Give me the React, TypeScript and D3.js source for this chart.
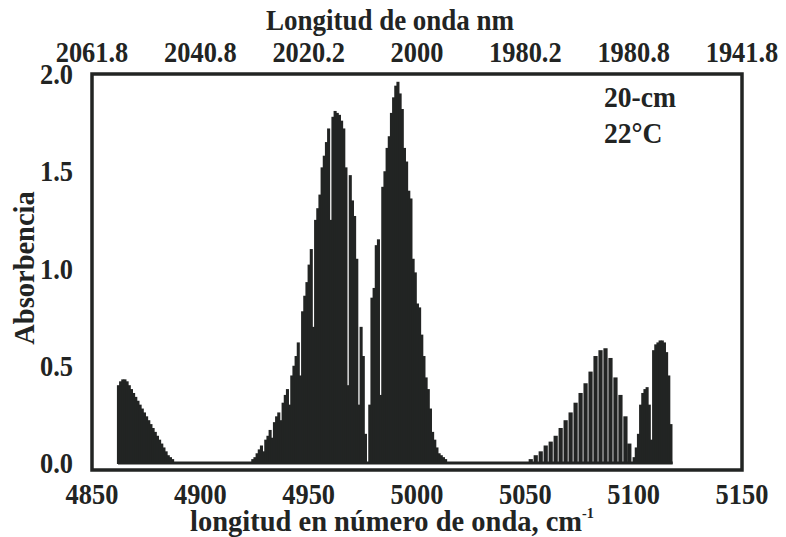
import React from "react";
import * as d3 from "d3";

// ---- data ----
const xTicks = [4850, 4900, 4950, 5000, 5050, 5100, 5150];
const topTickLabels = ["2061.8", "2040.8", "2020.2", "2000", "1980.2", "1980.8", "1941.8"];
const yTicks = [0, 0.5, 1.0, 1.5, 2.0];
const yTickLabels = ["0.0", "0.5", "1.0", "1.5", "2.0"];

// absorption lines: [wavenumber cm^-1, absorbance]
const band1: [number, number][] = [
  [4862, 0.40], [4863, 0.42], [4864, 0.43], [4865, 0.43], [4866, 0.42], [4867, 0.40],
  [4868, 0.38], [4869, 0.36], [4870, 0.34], [4871, 0.32], [4872, 0.30], [4873, 0.28],
  [4874, 0.26], [4875, 0.24], [4876, 0.22], [4877, 0.20], [4878, 0.18], [4879, 0.16],
  [4880, 0.14], [4881, 0.12], [4882, 0.10], [4883, 0.08], [4884, 0.06], [4885, 0.04],
  [4886, 0.03], [4887, 0.02],
];
const band2: [number, number][] = [
  [4924, 0.02], [4925, 0.03], [4926, 0.05], [4927, 0.07], [4928, 0.09], [4929, 0.06],
  [4930, 0.12], [4931, 0.14], [4932, 0.17], [4933, 0.13], [4934, 0.21], [4935, 0.24],
  [4936, 0.26], [4937, 0.22], [4938, 0.31], [4939, 0.35], [4940, 0.38], [4941, 0.30],
  [4942, 0.45], [4943, 0.50], [4944, 0.55], [4945, 0.62], [4946, 0.45], [4947, 0.78],
  [4948, 0.86], [4949, 0.93], [4950, 1.02], [4951, 1.10], [4952, 0.70], [4953, 1.25],
  [4954, 1.31], [4955, 1.38], [4956, 1.52], [4957, 1.58], [4958, 1.65], [4959, 1.72],
  [4960, 1.25], [4961, 1.78], [4962, 1.81], [4963, 1.80], [4964, 1.79], [4965, 1.76],
  [4966, 1.72], [4967, 1.52], [4968, 0.40], [4969, 1.48], [4970, 1.35], [4971, 1.27],
  [4972, 1.05], [4973, 0.30], [4974, 0.70], [4975, 0.55], [4976, 0.15],
];
const band3: [number, number][] = [
  [4978, 0.30], [4979, 0.85], [4980, 0.90], [4981, 1.12], [4982, 1.15], [4983, 0.35],
  [4984, 1.42], [4985, 1.50], [4986, 1.62], [4987, 1.68], [4988, 1.80], [4989, 1.88],
  [4990, 1.94], [4991, 1.96], [4992, 1.90], [4993, 1.82], [4994, 1.62], [4995, 1.55],
  [4996, 1.40], [4997, 1.36], [4998, 1.05], [4999, 0.98], [5000, 0.82], [5001, 0.80],
  [5002, 0.66], [5003, 0.55], [5004, 0.44], [5005, 0.38], [5006, 0.28], [5007, 0.16],
  [5008, 0.12], [5009, 0.08], [5010, 0.05], [5011, 0.04], [5012, 0.03], [5013, 0.02],
];
const band4: [number, number][] = [
  [5052.5, 0.02], [5054.8, 0.04], [5057.1, 0.06], [5059.4, 0.09], [5061.7, 0.11],
  [5064.0, 0.14], [5066.3, 0.18], [5068.6, 0.22], [5070.9, 0.26], [5073.2, 0.31],
  [5075.5, 0.36], [5077.8, 0.41], [5080.1, 0.47], [5082.4, 0.55], [5084.7, 0.58],
  [5087.0, 0.59], [5089.3, 0.54], [5091.6, 0.44], [5093.9, 0.35], [5096.2, 0.24],
  [5098.0, 0.10],
];
const band5: [number, number][] = [
  [5100, 0.03], [5101, 0.08], [5102, 0.15], [5103, 0.30], [5104, 0.36], [5105, 0.38],
  [5106, 0.39], [5107, 0.30], [5108, 0.12], [5109, 0.58], [5110, 0.61], [5111, 0.62],
  [5112, 0.63], [5113, 0.63], [5114, 0.62], [5115, 0.57], [5116, 0.45], [5117, 0.20],
];
const baselineRange = [4862, 5118];

const W = 786;
const H = 537;
const INK = "#222423";
const FONT = "'Liberation Serif', 'Times New Roman', serif";

function CText(props: {
  x: number; y: number; sx?: number; size: number; anchor?: string; rotate?: number;
  children: React.ReactNode;
}) {
  const { x, y, sx = 0.9, size, anchor = "middle", rotate = 0, children } = props;
  return (
    <text
      transform={`translate(${x},${y}) rotate(${rotate}) scale(${sx},1)`}
      textAnchor={anchor as any}
      fontFamily={FONT}
      fontWeight="bold"
      fontSize={size}
      fill={INK}
    >
      {children}
    </text>
  );
}

export default function App() {
  const x = d3.scaleLinear().domain([4850, 5150]).range([92, 742]);
  const y = d3.scaleLinear().domain([0, 2]).range([463, 74]);

  const dense = [band1, band2, band3, band5];
  const unit = x(4851) - x(4850);

  return (
    <svg width={W} height={H} style={{ position: "absolute", left: 0, top: 0, background: "#fff" }}>
      <rect x={0} y={0} width={W} height={H} fill="#fff" />
      {/* spectrum lines */}
      <g fill={INK}>
        {dense.map((band, bi) =>
          band.map(([nu, a], i) => (
            <rect
              key={`d${bi}-${i}`}
              x={x(nu) - unit / 2}
              y={y(a)}
              width={unit + 0.9}
              height={y(0) - y(a) + 1}
            />
          ))
        )}
        {band4.map(([nu, a], i) => (
          <rect key={`b4-${i}`} x={x(nu) - 2.1} y={y(a)} width={4.2} height={y(0) - y(a) + 1} />
        ))}
      </g>
      <line
        x1={x(baselineRange[0])} x2={x(baselineRange[1])} y1={y(0)} y2={y(0)}
        stroke={INK} strokeWidth={3}
      />
      {/* frame */}
      <rect x={92} y={74} width={650} height={396} fill="none" stroke={INK} strokeWidth={3.5} />

      {/* bottom axis labels */}
      {xTicks.map((t) => (
        <CText key={`bx${t}`} x={x(t)} y={504} size={30} sx={0.88}>{t}</CText>
      ))}
      {/* top axis labels */}
      {xTicks.map((t, i) => (
        <CText key={`tx${t}`} x={x(t)} y={62} size={30} sx={0.88}>{topTickLabels[i]}</CText>
      ))}
      {/* y axis labels */}
      {yTicks.map((t, i) => (
        <CText key={`y${t}`} x={73} y={y(t) + 10} size={30} sx={0.88} anchor="end">{yTickLabels[i]}</CText>
      ))}

      {/* titles */}
      <CText x={390} y={30} size={30} sx={0.9}>Longitud de onda nm</CText>
      <CText x={34} y={268} size={30} sx={0.95} rotate={-90}>Absorbencia</CText>
      <CText x={392} y={531} size={30} sx={0.95}>
        longitud en número de onda, cm<tspan dy={-13} fontSize={15}>-1</tspan>
      </CText>

      {/* annotation */}
      <CText x={604} y={107} size={30} sx={0.92} anchor="start">20-cm</CText>
      <CText x={604} y={143} size={30} sx={0.92} anchor="start">22°C</CText>
    </svg>
  );
}
